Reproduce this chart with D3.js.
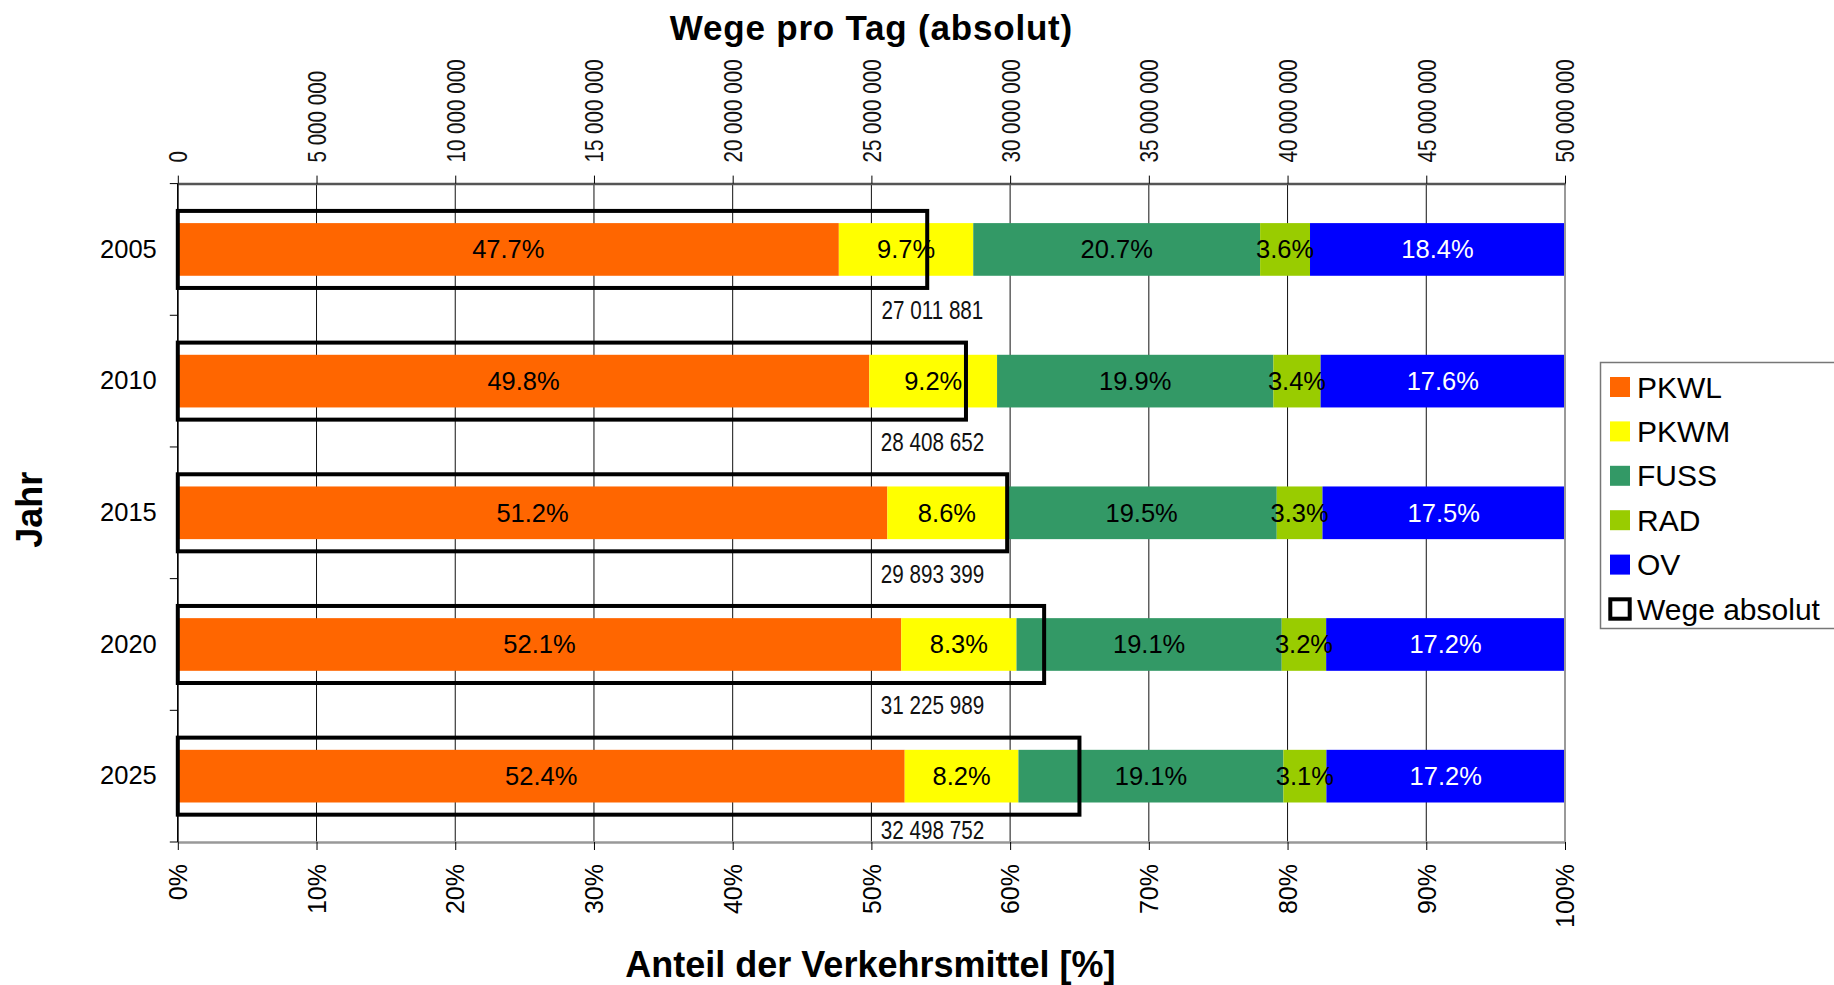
<!DOCTYPE html>
<html>
<head>
<meta charset="utf-8">
<script src="https://cdn.jsdelivr.net/npm/d3@7"></script>
<style>
	body { margin: 0; background: #fff; }
	svg { display: block; font-family: "Liberation Sans", Arial, sans-serif; }
</style>
</head>
<body>
<svg id="chart" width="1834" height="985"></svg>
<script>
// data
const years = ["2005", "2010", "2015", "2020", "2025"];
const modes = ["PKWL", "PKWM", "FUSS", "RAD", "OV"];
const modeColors = ["#ff6600", "#ffff00", "#339966", "#99cc00", "#0000ff"];
const modeTextColors = ["#000", "#000", "#000", "#000", "#fff"];

const pkwl = [47.7, 49.8, 51.2, 52.1, 52.4];
const pkwm = [9.7, 9.2, 8.6, 8.3, 8.2];
const fuss = [20.7, 19.9, 19.5, 19.1, 19.1];
const rad  = [3.6, 3.4, 3.3, 3.2, 3.1];
const ov   = [18.4, 17.6, 17.5, 17.2, 17.2];

const wegeAbsolut = [27011881, 28408652, 29893399, 31225989, 32498752];

const absTicks = [0, 5e6, 10e6, 15e6, 20e6, 25e6, 30e6, 35e6, 40e6, 45e6, 50e6];
const pctTicks = [0, 0.1, 0.2, 0.3, 0.4, 0.5, 0.6, 0.7, 0.8, 0.9, 1];

const legendLabels = ["PKWL", "PKWM", "FUSS", "RAD", "OV", "Wege absolut"];

drawChart();

// no narrow font installed, so squeeze the glyphs like Arial Narrow
function narrowText(selection){
	selection.each(function(){
		let len = this.getComputedTextLength();
		d3.select(this).attr("textLength", len * 0.81).attr("lengthAdjust", "spacingAndGlyphs");
	});
}

function drawChart(){
	var svg = d3.select("#chart"),
		margin = {top: 183.6, left: 177.8, right: 269, bottom: 143},
		width = 1834 - margin.left - margin.right,
		height = 985 - margin.top - margin.bottom,
		seriesValues = [pkwl, pkwm, fuss, rad, ov],
		rows = years.map(function(y, i){
			let row = {year: y};
			modes.forEach(function(m, k){ row[m] = seriesValues[k][i]; });
			return row;
		}),
		stacked = d3.stack().keys(modes).offset(d3.stackOffsetExpand)(rows),
		xPct = d3.scaleLinear().domain([0, 1]).range([0, width]),
		xAbs = d3.scaleLinear().domain([0, 50e6]).range([0, width]),
		yBar = d3.scaleBand().domain(years).range([0, height]).paddingInner(0.6).paddingOuter(0.3),
		yBox = d3.scaleBand().domain(years).range([0, height]).paddingInner(0.415).paddingOuter(0.2075),
		spaceFormat = d3.formatLocale({decimal: ",", thousands: " ", grouping: [3], currency: ["", ""]}).format(",d"),
		plot = svg.append("g").attr("transform", "translate(" + margin.left + "," + margin.top + ")");

	// vertical gridlines
	plot.append("g").attr("class", "grid")
		.selectAll("line").data(pctTicks).enter().append("line")
		.attr("x1", d => xPct(d)).attr("x2", d => xPct(d))
		.attr("y1", 0).attr("y2", height)
		.attr("stroke", "#111").attr("stroke-width", 1);

	// stacked bars
	let layers = plot.append("g").attr("class", "bars")
		.selectAll("g").data(stacked).enter().append("g")
		.attr("fill", (d, i) => modeColors[i]);

	layers.selectAll("rect").data(d => d).enter().append("rect")
		.attr("x", d => xPct(d[0]))
		.attr("width", d => xPct(d[1]) - xPct(d[0]))
		.attr("y", d => yBar(d.data.year))
		.attr("height", yBar.bandwidth());

	// percentage labels
	stacked.forEach(function(layer, k){
		plot.append("g").selectAll("text").data(layer).enter().append("text")
			.attr("x", d => (xPct(d[0]) + xPct(d[1])) / 2)
			.attr("y", d => yBar(d.data.year) + yBar.bandwidth() / 2)
			.attr("dy", "0.35em")
			.attr("text-anchor", "middle")
			.attr("font-size", "25.5px")
			.attr("fill", modeTextColors[k])
			.text(d => d.data[layer.key].toFixed(1) + "%");
	});

	// Wege absolut boxes
	plot.append("g").attr("class", "boxes")
		.selectAll("rect").data(wegeAbsolut).enter().append("rect")
		.attr("x", 0)
		.attr("y", (d, i) => yBox(years[i]))
		.attr("width", d => xAbs(d))
		.attr("height", yBox.bandwidth())
		.attr("fill", "none")
		.attr("stroke", "#000")
		.attr("stroke-width", 4);

	let labelX = xPct(0.544);
	plot.append("g").attr("class", "absLabels")
		.selectAll("text").data(wegeAbsolut).enter().append("text")
		.attr("x", labelX)
		.attr("y", (d, i) => Math.min(yBar(years[i]) + yBar.bandwidth() / 2 + 61, height - 11.5))
		.attr("dy", "0.35em")
		.attr("text-anchor", "middle")
		.attr("font-size", "25.5px")
		.attr("fill", "#111")
		.text(d => spaceFormat(d))
		.call(narrowText);

	// right border
	plot.append("line")
		.attr("x1", width).attr("x2", width).attr("y1", 0).attr("y2", height)
		.attr("stroke", "#999").attr("stroke-width", 2);

	// top axis (absolute)
	let topAxis = plot.append("g")
		.call(d3.axisTop(xAbs).tickValues(absTicks).tickSize(8).tickSizeOuter(0).tickFormat(spaceFormat));
	topAxis.select(".domain").attr("stroke", "#555").attr("stroke-width", 2.5);
	topAxis.selectAll("text")
		.attr("transform", "rotate(-90)")
		.attr("x", 21).attr("y", 0).attr("dy", "0.35em")
		.attr("text-anchor", "start")
		.attr("font-size", "25.5px")
		.attr("font-family", null)
		.attr("fill", "#111")
		.call(narrowText);

	// bottom axis (percent)
	let bottomAxis = plot.append("g").attr("transform", "translate(0," + height + ")")
		.call(d3.axisBottom(xPct).tickValues(pctTicks).tickSize(8).tickSizeOuter(0).tickFormat(d3.format(".0%")));
	bottomAxis.select(".domain").attr("stroke", "#999").attr("stroke-width", 2.5);
	bottomAxis.selectAll("text")
		.attr("transform", "rotate(-90)")
		.attr("x", -22).attr("y", 0).attr("dy", "0.35em")
		.attr("text-anchor", "end")
		.attr("font-size", "25px")
		.attr("font-family", null)
		.attr("fill", "#000");

	// left axis (years)
	let leftAxis = plot.append("g")
		.call(d3.axisLeft(yBar).tickSize(0).tickPadding(21));
	leftAxis.select(".domain").remove();
	leftAxis.selectAll("text").attr("font-size", "25.5px").attr("font-family", null).attr("fill", "#000");
	plot.append("line")
		.attr("x1", 0).attr("x2", 0).attr("y1", 0).attr("y2", height)
		.attr("stroke", "#000").attr("stroke-width", 1.5);
	plot.append("g").selectAll("line").data(d3.range(years.length + 1)).enter().append("line")
		.attr("x1", -8).attr("x2", 0)
		.attr("y1", d => d * yBar.step()).attr("y2", d => d * yBar.step())
		.attr("stroke", "#000").attr("stroke-width", 1);

	// titles
	svg.append("text")
		.attr("x", margin.left + width / 2).attr("y", 39.5)
		.attr("text-anchor", "middle")
		.attr("font-size", "35px").attr("font-weight", "bold")
		.attr("letter-spacing", "0.8px")
		.text("Wege pro Tag (absolut)");
	svg.append("text")
		.attr("x", margin.left + width / 2 - 1).attr("y", 977)
		.attr("text-anchor", "middle")
		.attr("font-size", "36px").attr("font-weight", "bold")
		.text("Anteil der Verkehrsmittel [%]");
	svg.append("text")
		.attr("transform", "translate(41.5," + (margin.top + height / 2 - 3) + ") rotate(-90)")
		.attr("text-anchor", "middle")
		.attr("font-size", "36px").attr("font-weight", "bold")
		.text("Jahr");

	// legend
	let legend = svg.append("g").attr("transform", "translate(1600.5,362.5)");
	legend.append("rect")
		.attr("x", 0).attr("y", 0).attr("width", 240).attr("height", 266)
		.attr("fill", "#fff").attr("stroke", "#777").attr("stroke-width", 1.5);
	let items = legend.selectAll("g.item").data(legendLabels).enter().append("g")
		.attr("class", "item")
		.attr("transform", (d, i) => "translate(0," + (24.5 + i * 44.4) + ")");
	items.filter((d, i) => i < modes.length).append("rect")
		.attr("x", 9.5).attr("y", -10).attr("width", 20).attr("height", 20)
		.attr("fill", (d, i) => modeColors[i]);
	items.filter((d, i) => i === modes.length).append("rect")
		.attr("x", 9.8).attr("y", -9.7).attr("width", 19.4).attr("height", 19.4)
		.attr("fill", "#fff").attr("stroke", "#000").attr("stroke-width", 4);
	items.append("text")
		.attr("x", 36.5).attr("y", 0).attr("dy", "0.35em")
		.attr("font-size", "30px")
		.text(d => d);
}
</script>
</body>
</html>
